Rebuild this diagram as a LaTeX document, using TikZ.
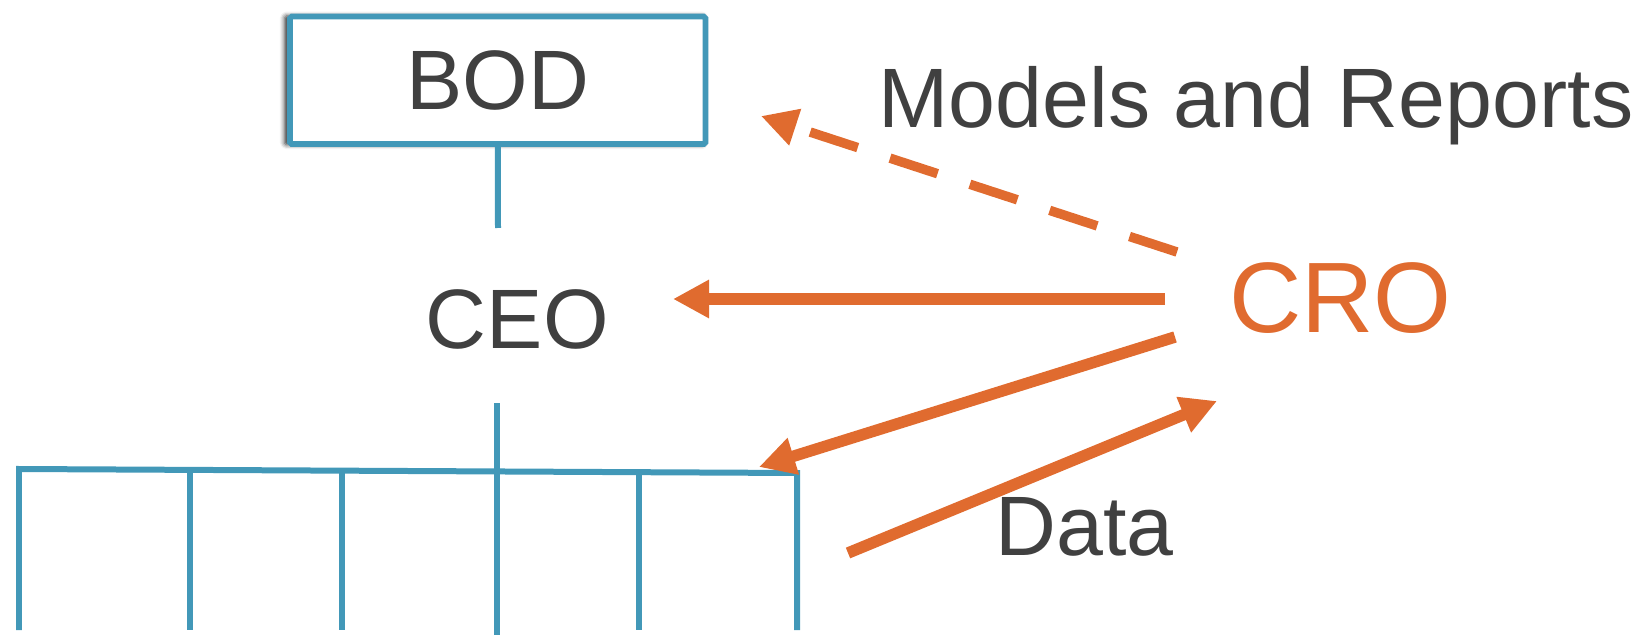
\documentclass[tikz,border=0pt]{standalone}
\usepackage{fontspec}
\setmainfont{Liberation Sans}
\usetikzlibrary{arrows.meta,positioning,shadows.blur}

\definecolor{orgblue}{RGB}{66,152,184}
\definecolor{croorange}{RGB}{224,107,47}
\definecolor{textgray}{RGB}{64,64,64}

\tikzset{
  orgline/.style={draw=orgblue, line width=0.12cm},
  flow/.style={draw=croorange, line width=0.23cm, -{Triangle[length=0.72cm, width=0.72cm]}},
  flowdash/.style={flow, line width=0.19cm, dash pattern=on 1cm off 0.68cm}
}

\begin{document}
\begin{tikzpicture}[x=0.02cm, y=-0.02cm, node distance=4.79cm, text=textgray, font=\fontsize{48}{56}\selectfont]
      \useasboundingbox (0,0) rectangle (1649,638);

      % Chart
      \node (bod) [draw=orgblue, fill=white, line width=0.115cm, rounded corners=1pt, minimum width=8.31cm, minimum height=2.55cm, inner sep=0pt,
                   blur shadow={shadow xshift=-2pt, shadow yshift=0pt, shadow scale=1.01, shadow blur radius=2.5pt, shadow opacity=80}] at (497.75,80.35) {BOD};
      \node (ceo) [below of=bod, xshift=0.39cm] {CEO};
      \node (cro) [node distance=16.47cm, right of=ceo, yshift=0.44cm, text=croorange, font=\fontsize{57}{66}\selectfont] {CRO};

      % Labels
      \node (models) [anchor=base] at (1256,128) {Models and Reports};
      \node (data) [anchor=base] at (1084.5,555) {Data};

      % Org lines
      \coordinate (ceotop) at (498,228);
      \coordinate (ceobot) at (497,403);
      \coordinate (staff) at (497,635);
      \coordinate (bar1) at (19,469);
      \coordinate (bar2) at (190,469.9);
      \coordinate (bar3) at (342,470.7);
      \coordinate (bar4) at (497,471.5);
      \coordinate (bar5) at (639,472.2);
      \coordinate (bar6) at (797,473);
      \coordinate (unit1) at (19,630);
      \coordinate (unit2) at (190,630);
      \coordinate (unit3) at (342,630);
      \coordinate (unit5) at (639,630);
      \coordinate (unit6) at (797,630);

      \draw[orgline] (bod.south) -- (ceotop);
      \draw[orgline] (ceobot) -- (staff);
      \draw[orgline] (unit1) -- (bar1) -- (bar6) -- (unit6);
      \draw[orgline] (bar2) -- (unit2);
      \draw[orgline] (bar3) -- (unit3);
      \draw[orgline] (bar5) -- (unit5);

      % Arrows
      \coordinate (report0) at (1177,252);
      \coordinate (report1) at (761,116);
      \coordinate (order0) at (1165,299);
      \coordinate (order1) at (673,299);
      \coordinate (down0) at (1175,337);
      \coordinate (down1) at (759,467);
      \coordinate (data0) at (848,553);
      \coordinate (data1) at (1217,401);

      \draw[flowdash] (report0) -- (report1);
      \draw[flow] (order0) -- (order1);
      \draw[flow] (down0) -- (down1);
      \draw[flow] (data0) -- (data1);
\end{tikzpicture}
\end{document}
